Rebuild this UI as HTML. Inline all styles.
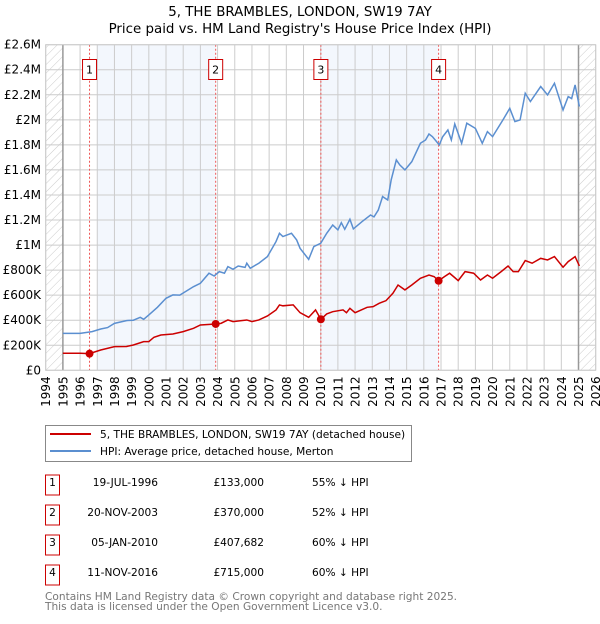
<!DOCTYPE html>
<html><head><meta charset="utf-8"><style>
body{margin:0;background:#fff;font-family:"DejaVu Sans","Liberation Sans",sans-serif;}
svg text{font-family:"DejaVu Sans","Liberation Sans",sans-serif;}
</style></head><body>
<svg id="c" width="600" height="620" xmlns="http://www.w3.org/2000/svg">
<defs><pattern id="hatch" width="6" height="6" patternUnits="userSpaceOnUse" patternTransform="rotate(45)"><line x1="0" y1="0" x2="0" y2="6" stroke="#ccc" stroke-width="1"/></pattern></defs>
<text x="300" y="16" text-anchor="middle" font-size="13.4">5, THE BRAMBLES, LONDON, SW19 7AY</text>
<text x="300" y="33" text-anchor="middle" font-size="13.4">Price paid vs. HM Land Registry's House Price Index (HPI)</text>
<g id="plot"></g>
<g>
<rect x="45.5" y="425.5" width="366" height="36" fill="#fff" stroke="#888"/>
<line x1="50" y1="434" x2="91" y2="434" stroke="#cc0000" stroke-width="2"/>
<text x="100" y="438" font-size="10.6">5, THE BRAMBLES, LONDON, SW19 7AY (detached house)</text>
<line x1="50" y1="451" x2="91" y2="451" stroke="#5b8fd0" stroke-width="2"/>
<text x="100" y="455" font-size="10.6">HPI: Average price, detached house, Merton</text>
</g>
<g id="table" font-size="10.6"></g>
<text x="45" y="600" font-size="10.6" fill="#777">Contains HM Land Registry data © Crown copyright and database right 2025.</text>
<text x="45" y="610" font-size="10.6" fill="#777">This data is licensed under the Open Government Licence v3.0.</text>
</svg>
<script>
const hpiYears=[1995,1996,1996.7,1997.2,1997.6,1998,1998.7,1999.1,1999.5,1999.7,2000,2000.5,2001,2001.4,2001.8,2002.2,2002.6,2003,2003.5,2003.8,2004.1,2004.4,2004.6,2004.9,2005.2,2005.6,2005.7,2005.9,2006.4,2006.9,2007.4,2007.6,2007.8,2008.3,2008.6,2008.8,2009.3,2009.6,2010,2010.35,2010.7,2011,2011.2,2011.4,2011.7,2011.9,2012.4,2012.9,2013.1,2013.35,2013.6,2013.9,2014.1,2014.4,2014.6,2014.9,2015.3,2015.8,2016.1,2016.3,2016.5,2016.9,2017.1,2017.4,2017.6,2017.8,2018.2,2018.5,2019,2019.4,2019.7,2020,2020.6,2021,2021.3,2021.6,2021.9,2022.2,2022.8,2023.2,2023.6,2024.1,2024.4,2024.6,2024.8,2025.05];
const hpiValues=[295,295,309,330,341,375,397,400,423,407,442,503,575,602,600,634,668,695,775,753,788,775,828,807,833,822,855,815,855,908,1028,1094,1068,1094,1041,974,886,988,1014,1094,1160,1121,1179,1126,1206,1129,1187,1240,1225,1280,1387,1360,1520,1680,1640,1600,1666,1813,1839,1887,1866,1800,1866,1919,1839,1967,1813,1973,1932,1813,1906,1866,1999,2092,1986,1999,2212,2146,2266,2199,2292,2079,2186,2170,2279,2106];
const ppYears=[1995,1996,1996.55,1997.2,1998,1998.7,1999.1,1999.7,2000,2000.3,2000.7,2001.4,2002,2002.6,2003,2003.89,2004.2,2004.6,2004.9,2005.7,2006,2006.4,2006.9,2007.4,2007.6,2007.8,2008.4,2008.8,2009.3,2009.7,2010.01,2010.35,2010.7,2011.3,2011.5,2011.7,2012,2012.7,2013.05,2013.4,2013.8,2014.2,2014.5,2014.9,2015.3,2015.8,2016.3,2016.6,2016.86,2017.2,2017.5,2017.8,2018,2018.4,2018.9,2019.3,2019.7,2020,2020.5,2020.9,2021.2,2021.5,2021.9,2022.3,2022.8,2023.2,2023.6,2024.1,2024.4,2024.8,2025.05];
const ppValues=[136,136,133,162,189,190,202,229,229,264,282,290,309,335,362,370,375,402,389,402,389,402,434,482,522,515,522,460,423,482,407,450,468,482,460,495,460,503,508,535,556,615,681,642,681,735,761,748,715,748,775,740,716,788,775,721,761,735,788,833,788,788,876,855,894,881,908,823,868,908,833];
const sales=[{n:"1",y:1996.55,v:133,date:"19-JUL-1996",price:"£133,000",pct:"55% ↓ HPI"},{n:"2",y:2003.89,v:370,date:"20-NOV-2003",price:"£370,000",pct:"52% ↓ HPI"},{n:"3",y:2010.01,v:407.682,date:"05-JAN-2010",price:"£407,682",pct:"60% ↓ HPI"},{n:"4",y:2016.86,v:715,date:"11-NOV-2016",price:"£715,000",pct:"60% ↓ HPI"}];
const yTicks=[0,200,400,600,800,1000,1200,1400,1600,1800,2000,2200,2400,2600];
const yLabels=["£0","£200K","£400K","£600K","£800K","£1M","£1.2M","£1.4M","£1.6M","£1.8M","£2M","£2.2M","£2.4M","£2.6M"];
const X0=45.7,X1=595.7,Y0=370.3,Y1=44.7;
const xs=y=>X0+(y-1994)/32*(X1-X0);
const ys=v=>Y0-v/2600*(Y0-Y1);
const NS="http://www.w3.org/2000/svg";
const g=document.getElementById('plot');
function mk(t,a,p){const e=document.createElementNS(NS,t);for(const k in a)e.setAttribute(k,a[k]);(p||g).appendChild(e);return e;}
let e;
e=mk('rect',{x:xs(1997),y:Y1,width:xs(sales[1].y)-xs(1997),height:Y0-Y1,fill:'#eef3fc',opacity:0.7});


e=mk('rect',{x:xs(sales[2].y),y:Y1,width:xs(sales[3].y)-xs(sales[2].y),height:Y0-Y1,fill:'#eef3fc',opacity:0.7});


e=mk('rect',{x:X0,y:Y1,width:xs(1995)-X0,height:Y0-Y1,fill:'url(#hatch)'});


e=mk('rect',{x:xs(2025),y:Y1,width:X1-xs(2025),height:Y0-Y1,fill:'url(#hatch)'});


for(let i=0;i<yTicks.length;i++){
 const y=ys(yTicks[i]);
 e=mk('line',{x1:X0,x2:X1,y1:y,y2:y,stroke:'#ccc','stroke-width':1});
 
 
 e=mk('text',{x:41,y:y+4,'text-anchor':'end','font-size':12});
 e.textContent=yLabels[i];
 
 
}
for(let yr=1994;yr<=2026;yr++){
 const x=xs(yr);
 e=mk('line',{x1:x,x2:x,y1:Y1,y2:Y0,stroke:(yr==1995||yr==2025)?'#999':'#ccc','stroke-width':(yr==1995||yr==2025)?1.5:1});
 
 
 e=mk('text',{x:x+4.5,y:Y0+6,'text-anchor':'end','font-size':12,transform:`rotate(-90 ${x+4.5} ${Y0+6})`});
 e.textContent=yr;
 
 
}
sales.forEach(s=>{
 const x=xs(s.y);
 e=mk('line',{x1:x,x2:x,y1:Y1,y2:Y0,stroke:'#e55','stroke-width':1,'stroke-dasharray':'2,2'});
 
 
 e=mk('rect',{x:x-7,y:59.5,width:14,height:20,fill:'#fff',stroke:'#c00'});
 
 
 e=mk('text',{x:x,y:73.5,'text-anchor':'middle','font-size':11});
 e.textContent=s.n;
 
 
});
e=mk('polyline',{points:hpiYears.map((y,i)=>xs(y)+','+ys(hpiValues[i])).join(' '),fill:'none',stroke:'#5b8fd0','stroke-width':1.5});


e=mk('polyline',{points:ppYears.map((y,i)=>xs(y)+','+ys(ppValues[i])).join(' '),fill:'none',stroke:'#cc0000','stroke-width':1.5});


sales.forEach(s=>{
 e=mk('circle',{cx:xs(s.y),cy:ys(s.v),r:4,fill:'#cc0000'});
 
 
});
e=mk('rect',{x:X0,y:Y1,width:X1-X0,height:Y0-Y1,fill:'none',stroke:'#ccc'});


const tb=document.getElementById('table');
sales.forEach((s,i)=>{
 const cy=485+i*30;
 e=mk('rect',{x:45.5,y:cy-10,width:14,height:20,fill:'#fff',stroke:'#c00'},tb);
 
 
 e=mk('text',{x:52.5,y:cy+1,'text-anchor':'middle'},tb);e.textContent=s.n;
 
 
 e=mk('text',{x:158,y:cy+1,'text-anchor':'end'},tb);e.textContent=s.date;
 
 
 e=mk('text',{x:264,y:cy+1,'text-anchor':'end'},tb);e.textContent=s.price;
 
 
 e=mk('text',{x:312,y:cy+1},tb);e.textContent=s.pct;
 
 
});
</script>
</body></html>
